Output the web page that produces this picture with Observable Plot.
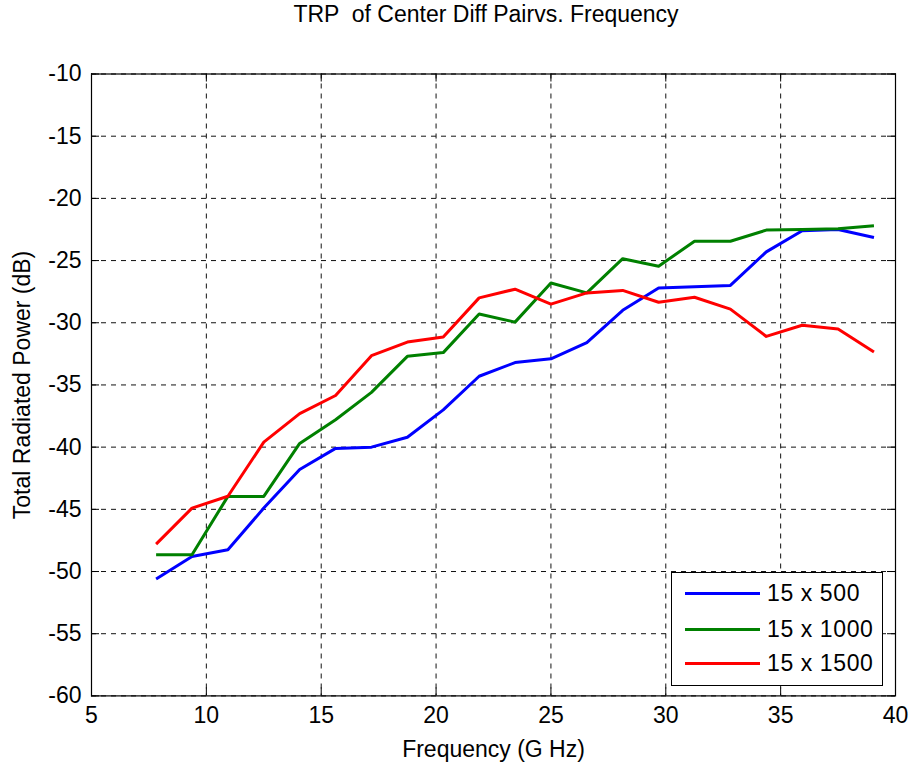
<!DOCTYPE html>
<html>
<head>
<meta charset="utf-8">
<script src="https://cdn.jsdelivr.net/npm/d3@7"></script>
<script src="https://cdn.jsdelivr.net/npm/@observablehq/plot@0.6"></script>
<style>
  body { margin: 0; background: #fff; font-family: "Liberation Sans", Arial, sans-serif; }
  #wrap { position: relative; width: 912px; height: 763px; overflow: hidden; }
  #title { position: absolute; top: 3px; left: 486px; transform: translateX(-50%); white-space: pre;
           font-size: 23px; line-height: 23px; color: #000; }
  #chart { position: absolute; top: 40px; left: 0; }
  #legend { position: absolute; left: 671px; top: 572px; width: 210px; height: 112px;
            border: 1px solid #000; background: #fff; }
  .lg-row { position: absolute; left: 0; height: 24px; }
  .lg-swatch { position: absolute; left: 13px; width: 75px; height: 3px; }
  .lg-text { position: absolute; left: 95px; font-size: 23px; line-height: 23px; letter-spacing: 0.6px; white-space: pre; }
</style>
</head>
<body>
<div id="wrap">
  <div id="title">TRP  of Center Diff Pairvs. Frequency</div>
  <div id="chart"></div>
  <div id="legend"></div>
</div>
<script>
// ---- data ----
const frequency = [7.8125, 9.375, 10.9375, 12.5, 14.0625, 15.625, 17.1875, 18.75, 20.3125, 21.875,
                   23.4375, 25, 26.5625, 28.125, 29.6875, 31.25, 32.8125, 34.375, 35.9375, 37.5, 39.0625];
const trp500  = [-50.6, -48.8, -48.25, -44.9, -41.8, -40.1, -40.0, -39.2, -37.0, -34.3,
                 -33.2, -32.9, -31.6, -29.0, -27.2, -27.1, -27.0, -24.3, -22.6, -22.5, -23.15];
const trp1000 = [-48.65, -48.65, -43.96, -43.96, -39.7, -37.8, -35.6, -32.7, -32.4, -29.3,
                 -29.95, -26.8, -27.6, -24.85, -25.45, -23.45, -23.45, -22.55, -22.5, -22.45, -22.2];
const trp1500 = [-47.8, -44.9, -43.95, -39.6, -37.3, -35.85, -32.65, -31.55, -31.15, -28.0,
                 -27.3, -28.5, -27.6, -27.4, -28.35, -27.95, -28.9, -31.1, -30.2, -30.5, -32.35];
const seriesNames = ["15 x 500", "15 x 1000", "15 x 1500"];
const seriesColors = ["#0000ff", "#008000", "#ff0000"];
const xTicks = [5, 10, 15, 20, 25, 30, 35, 40];
const yTicks = [-10, -15, -20, -25, -30, -35, -40, -45, -50, -55, -60];

const seriesValues = [trp500, trp1000, trp1500];
const rows = [];
seriesNames.forEach((name, s) => {
  frequency.forEach((f, i) => rows.push({series: name, f, v: seriesValues[s][i]}));
});

const W = 912, H = 723;
const mTop = 33.5, mBottom = 67.6, mLeft = 91, mRight = 17;
const frameH = H - mTop - mBottom, frameW = W - mLeft - mRight;
const tickLen = 8;
const fontStack = '"Liberation Sans", Arial, sans-serif';

const chart = Plot.plot({
  width: W, height: H,
  marginTop: mTop, marginBottom: mBottom, marginLeft: mLeft, marginRight: mRight,
  style: {fontFamily: fontStack, fontSize: "23px", color: "#000", background: "#fff"},
  x: {domain: [5, 40]},
  y: {domain: [-60, -10]},
  color: {domain: seriesNames, range: seriesColors},
  marks: [
    Plot.gridX(xTicks, {stroke: "#111", strokeOpacity: 1, strokeWidth: 1, strokeDasharray: "5,5"}),
    Plot.gridY(yTicks, {stroke: "#111", strokeOpacity: 1, strokeWidth: 1, strokeDasharray: "5,5"}),
    Plot.tickX(xTicks, {x: d => d, stroke: "#000", insetTop: frameH - tickLen}),
    Plot.tickX(xTicks, {x: d => d, stroke: "#000", insetBottom: frameH - tickLen}),
    Plot.tickY(yTicks, {y: d => d, stroke: "#000", insetRight: frameW - tickLen}),
    Plot.tickY(yTicks, {y: d => d, stroke: "#000", insetLeft: frameW - tickLen}),
    Plot.line(rows, {x: "f", y: "v", z: "series", stroke: "series", strokeWidth: 3,
                     strokeLinejoin: "round", strokeLinecap: "butt"}),
    Plot.frame({stroke: "#000", strokeWidth: 1.2}),
    Plot.axisX(xTicks, {tickSize: 0, tickPadding: 11, tickFormat: d => String(d),
                        label: "Frequency (G Hz)", labelAnchor: "center", labelOffset: 61, labelArrow: "none"}),
    Plot.axisY(yTicks, {tickSize: 0, tickPadding: 10, tickFormat: d => String(d),
                        label: "Total Radiated Power (dB)", labelAnchor: "center", labelOffset: 78, labelArrow: "none"})
  ]
});
document.getElementById("chart").appendChild(chart);

// ---- legend (HTML, built from series arrays) ----
const legend = d3.select("#legend");
const rowTops = [8, 44, 78];
seriesNames.forEach((name, i) => {
  const row = legend.append("div").attr("class", "lg-row").style("top", rowTops[i] + "px");
  row.append("div").attr("class", "lg-swatch").style("top", "11px").style("background", seriesColors[i]);
  row.append("div").attr("class", "lg-text").style("top", "1px").text(name);
});
</script>
</body>
</html>
